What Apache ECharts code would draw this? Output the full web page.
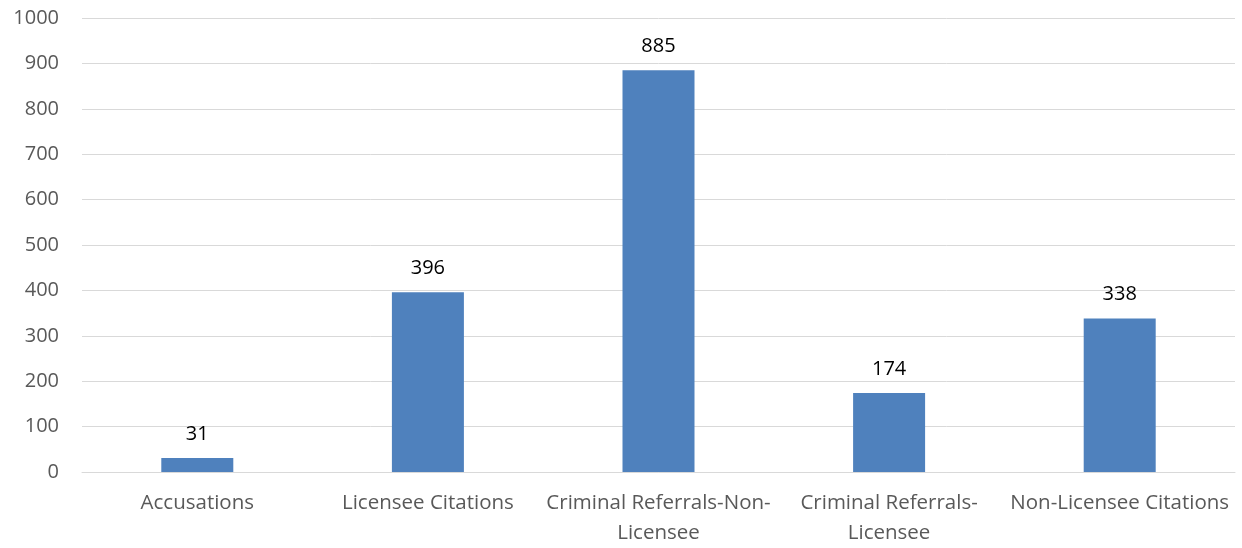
<!DOCTYPE html>
<html>
<head>
<meta charset="utf-8">
<script src="https://cdn.jsdelivr.net/npm/echarts@6/dist/echarts.min.js"></script>
<style>html,body{margin:0;padding:0;background:#fff}#c{width:1242px;height:548px}</style>
</head>
<body>
<div id="c"></div>
<script>
const categories = ["Accusations", "Licensee Citations", "Criminal Referrals-Non-Licensee", "Criminal Referrals-Licensee", "Non-Licensee Citations"];
const values = [31, 396, 885, 174, 338];
const yTicks = [0, 100, 200, 300, 400, 500, 600, 700, 800, 900, 1000];

const FONT = "'Open Sans', 'Noto Sans', sans-serif";
const chart = echarts.init(document.getElementById('c'), null, {renderer: 'canvas'});
chart.setOption({
  animation: false,
  grid: {left: 82, right: 7, top: 18, bottom: 72, containLabel: false},
  xAxis: {
    type: 'category',
    data: categories,
    axisLine: {show: true, lineStyle: {color: '#d9d9d9', width: 1}},
    axisTick: {show: false},
    axisLabel: {
      color: '#595959', fontFamily: FONT, fontSize: 20.5, margin: 16, lineHeight: 30, interval: 0,
      formatter: function (v) {
        if (v.length > 22) { const i = v.lastIndexOf('-'); return v.slice(0, i + 1) + '\n' + v.slice(i + 1); }
        return v;
      }
    }
  },
  yAxis: {
    type: 'value',
    min: yTicks[0], max: yTicks[yTicks.length - 1], interval: 100,
    axisLine: {show: false}, axisTick: {show: false},
    splitLine: {lineStyle: {color: '#d9d9d9', width: 1}},
    axisLabel: {color: '#595959', fontFamily: FONT, fontSize: 20, margin: 23, formatter: function (v) { return String(v); }}
  },
  series: [{
    type: 'bar',
    data: values,
    barWidth: 72,
    itemStyle: {color: '#4f81bd'},
    label: {show: true, position: 'top', distance: 14, color: '#000', fontFamily: FONT, fontSize: 20}
  }]
});
</script>
</body>
</html>
